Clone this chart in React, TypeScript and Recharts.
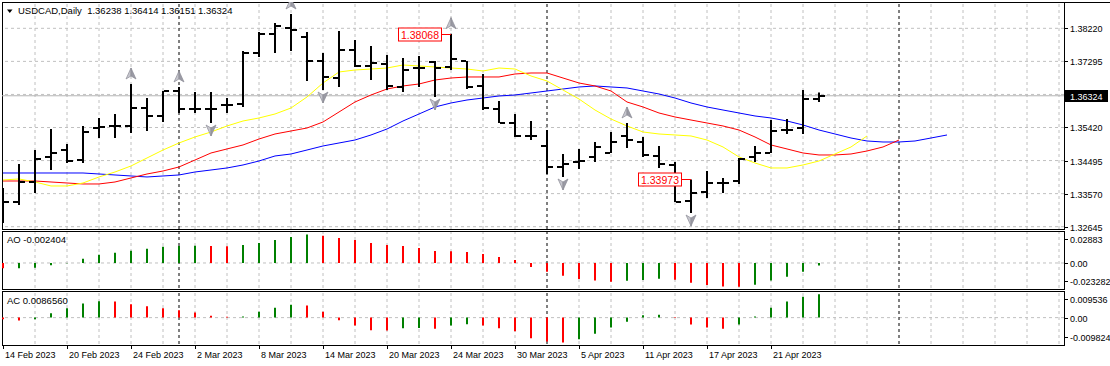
import React from 'react';
import { ComposedChart, Bar, Line, Scatter, XAxis, YAxis, ReferenceLine, Cell } from 'recharts';

const FONT = '"Liberation Sans", Arial, sans-serif';
const W = 1110;
const GREEN = '#008000';
const RED = '#ff0000';

// daily bars, 14 Feb 2023 .. 26 Apr 2023
const opens = [1.334, 1.33339, 1.33901, 1.34604, 1.348, 1.34519, 1.35418, 1.35475, 1.35475, 1.3598, 1.35756, 1.36458, 1.35952, 1.35952, 1.36065, 1.36093, 1.37526, 1.3806, 1.38228, 1.37976, 1.37301, 1.36823, 1.3761, 1.37161, 1.37217, 1.36571, 1.37104, 1.37273, 1.37133, 1.37301, 1.36599, 1.35952, 1.35559, 1.35194, 1.34913, 1.34323, 1.34463, 1.34604, 1.34716, 1.35194, 1.35025, 1.34632, 1.34379, 1.33367, 1.3362, 1.33873, 1.33929, 1.34604, 1.34716, 1.35362, 1.35418, 1.36238];
const highs = [1.33733, 1.34407, 1.348, 1.3539, 1.34969, 1.35475, 1.35699, 1.35812, 1.36655, 1.36261, 1.36458, 1.36571, 1.3643, 1.3643, 1.36261, 1.37582, 1.38116, 1.38369, 1.38622, 1.38116, 1.37526, 1.38144, 1.37891, 1.37723, 1.3747, 1.37385, 1.37442, 1.37301, 1.38068, 1.37301, 1.36936, 1.36177, 1.35812, 1.35615, 1.35362, 1.34688, 1.34829, 1.35025, 1.35306, 1.35559, 1.35166, 1.34913, 1.34463, 1.33973, 1.3421, 1.34014, 1.34576, 1.34913, 1.35643, 1.35671, 1.36486, 1.36414];
const lows = [1.32749, 1.33255, 1.33592, 1.34238, 1.34435, 1.34435, 1.35137, 1.35137, 1.35278, 1.35334, 1.35587, 1.3584, 1.3584, 1.35559, 1.3584, 1.36009, 1.37413, 1.37526, 1.37582, 1.36739, 1.36486, 1.36571, 1.37133, 1.36767, 1.36486, 1.3643, 1.36571, 1.3629, 1.37048, 1.36514, 1.35924, 1.35559, 1.35166, 1.35081, 1.34126, 1.34042, 1.34267, 1.34463, 1.34716, 1.34857, 1.34604, 1.34295, 1.33339, 1.3303, 1.33452, 1.33592, 1.33845, 1.34463, 1.34716, 1.3525, 1.3525, 1.36151];
const closes = [1.33339, 1.33901, 1.34548, 1.34716, 1.34491, 1.35306, 1.35447, 1.35475, 1.3598, 1.35756, 1.36458, 1.35952, 1.35952, 1.35952, 1.36065, 1.37526, 1.3806, 1.38285, 1.38172, 1.37301, 1.36852, 1.3761, 1.37161, 1.37245, 1.36599, 1.37048, 1.37104, 1.37104, 1.37357, 1.36571, 1.3598, 1.35559, 1.35194, 1.35194, 1.34323, 1.34407, 1.34491, 1.34885, 1.35025, 1.35081, 1.3466, 1.34407, 1.33339, 1.33592, 1.33873, 1.33873, 1.34548, 1.34716, 1.35334, 1.35362, 1.36233, 1.36324];

// alligator lines (shifted forward, so they run past the last bar)
const lips = [1.33958, 1.33986, 1.33901, 1.33789, 1.33789, 1.33873, 1.34042, 1.34182, 1.34351, 1.34576, 1.348, 1.34997, 1.35166, 1.35306, 1.35475, 1.35615, 1.357, 1.35812, 1.3598, 1.3629, 1.36683, 1.36992, 1.37048, 1.37076, 1.37104, 1.37189, 1.37161, 1.37133, 1.37104, 1.37076, 1.3702, 1.37104, 1.37076, 1.3688, 1.36739, 1.36486, 1.36233, 1.35924, 1.35671, 1.35475, 1.35306, 1.3525, 1.35222, 1.35194, 1.35081, 1.34885, 1.34604, 1.34435, 1.34295, 1.34295, 1.34379, 1.34491, 1.34688, 1.34885, 1.35194];
const teeth = [1.33929, 1.33929, 1.33929, 1.33901, 1.33873, 1.33845, 1.33845, 1.33901, 1.34014, 1.34126, 1.3421, 1.34323, 1.34519, 1.34716, 1.34829, 1.34941, 1.35109, 1.3525, 1.35334, 1.35418, 1.35587, 1.35868, 1.36149, 1.36346, 1.36514, 1.36599, 1.36655, 1.36767, 1.36823, 1.36852, 1.36852, 1.36852, 1.36936, 1.36964, 1.36964, 1.36823, 1.36683, 1.36599, 1.36458, 1.36149, 1.36009, 1.3584, 1.35728, 1.35643, 1.35559, 1.35475, 1.35362, 1.35166, 1.34941, 1.34829, 1.34716, 1.3466, 1.3466, 1.34688, 1.34772, 1.34885, 1.35081];
const jaw = [1.34154, 1.34154, 1.34154, 1.34154, 1.34154, 1.34154, 1.34126, 1.34098, 1.3407, 1.34042, 1.3407, 1.34098, 1.34182, 1.34238, 1.34295, 1.34379, 1.34491, 1.34632, 1.34688, 1.348, 1.34913, 1.34997, 1.35081, 1.35222, 1.3539, 1.35615, 1.35812, 1.36009, 1.36121, 1.36205, 1.36261, 1.36318, 1.36346, 1.36402, 1.36458, 1.36514, 1.36571, 1.36599, 1.36571, 1.36543, 1.36458, 1.36374, 1.36261, 1.36121, 1.36009, 1.35924, 1.3584, 1.35756, 1.357, 1.35615, 1.35503, 1.35362, 1.3525, 1.35137, 1.35053, 1.35025, 1.35025, 1.35053, 1.35137, 1.35222];

const fractalsUp = [8, 11, 18, 28, 39];
const fractalsDown = [13, 20, 27, 35, 43];
const markedHighs = [28, 43];

const ao = [-0.005, -0.0048, -0.0044, -0.0021, -0.0003, 0.004, 0.0077, 0.0096, 0.0114, 0.0133, 0.0152, 0.0158, 0.016, 0.0158, 0.0155, 0.0167, 0.0186, 0.0214, 0.0242, 0.0264, 0.0254, 0.0233, 0.0214, 0.0186, 0.0167, 0.0158, 0.014, 0.0112, 0.011, 0.0102, 0.0084, 0.0056, 0.0028, -0.0037, -0.0081, -0.0118, -0.0149, -0.0164, -0.0174, -0.0165, -0.0158, -0.0146, -0.0155, -0.0183, -0.0205, -0.022, -0.0222, -0.0202, -0.0164, -0.0127, -0.0081, -0.002404];
const ac = [-0.0006, -0.0011, -0.0006, 0.0016, 0.0035, 0.0053, 0.0061, 0.006, 0.005, 0.0042, 0.0035, 0.0027, 0.0019, 0.0007, 0.0003, 0.0004, 0.0022, 0.0037, 0.0048, 0.0045, 0.0022, -0.001, -0.0029, -0.0047, -0.0048, -0.004, -0.0039, -0.0041, -0.0029, -0.0025, -0.0029, -0.004, -0.0051, -0.0077, -0.0089, -0.0093, -0.0081, -0.006, -0.0037, -0.0015, 0.0009, 0.0011, 0.0002, -0.0026, -0.0037, -0.0041, -0.0026, 0.0004, 0.0037, 0.006, 0.0078, 0.008656];

const dateTicks = [0, 4, 8, 12, 16, 20, 24, 28, 32, 36, 40, 44, 48];
const dateLabels = ['14 Feb 2023', '20 Feb 2023', '24 Feb 2023', '2 Mar 2023', '8 Mar 2023', '14 Mar 2023', '20 Mar 2023', '24 Mar 2023', '30 Mar 2023', '5 Apr 2023', '11 Apr 2023', '17 Apr 2023', '21 Apr 2023'];

const priceTicks = [1.3822, 1.372908, 1.363617, 1.354325, 1.345033, 1.335742, 1.32645];
const priceTickLabels = ['1.38220', '1.37295', '', '1.35420', '1.34495', '1.33570', '1.32645'];
const bid = 1.36324;

const aoTicks = [0.02883, 0, -0.023282];
const aoTickLabels = ['0.02883', '0.00', '-0.023282'];
const acTicks = [0.009536, 0, -0.009824];
const acTickLabels = ['0.009536', '0.00', '-0.009824'];

const separators = [11, 34, 56];
const X_DOMAIN: [number, number] = [-0.0625, 66.3125];
const PRICE_DOMAIN: [number, number] = [1.3258, 1.38959];
const barTicks = Array.from({ length: 67 }, (_, i) => i);
const gridIdx = Array.from({ length: 33 }, (_, k) => 2 + 2 * k).filter((i) => !separators.includes(i));

const rows = jaw.map((j, i) => ({
  i,
  hl: i < highs.length ? [lows[i], highs[i]] : null,
  open: i < opens.length ? opens[i] : null,
  close: i < closes.length ? closes[i] : null,
  lips: i < lips.length ? lips[i] : null,
  teeth: i < teeth.length ? teeth[i] : null,
  jaw: j,
}));

const upRows = fractalsUp.map((i) => ({ i, y: highs[i] }));
const downRows = fractalsDown.map((i) => ({ i, y: lows[i] }));
const markRows = markedHighs.map((i) => ({ i, y: highs[i] }));
const aoRows = ao.map((v, i) => ({ i, v, up: i > 0 && v > ao[i - 1] }));
const acRows = ac.map((v, i) => ({ i, v, up: i > 0 && v > ac[i - 1] }));

const ok = (n: any) => typeof n === 'number' && Number.isFinite(n);

const OpenTick = (p: any) =>
  ok(p.cy) ? <rect x={p.cx - 6} y={Math.round(p.cy) - 1} width={5} height={2} fill="#000" /> : <g />;
const CloseTick = (p: any) =>
  ok(p.cy) ? <rect x={p.cx + 1} y={Math.round(p.cy) - 1} width={5} height={2} fill="#000" /> : <g />;

const FractalUp = (p: any) => {
  const x = p.cx;
  const y = p.cy - 10;
  return (
    <g>
      <polygon points={`${x},${y - 6} ${x},${y + 2} ${x - 5},${y + 5}`} fill="#c6c6ce" stroke="#8c8c96" strokeWidth={0.7} />
      <polygon points={`${x},${y - 6} ${x + 5},${y + 5} ${x},${y + 2}`} fill="#9a9aa4" stroke="#8c8c96" strokeWidth={0.7} />
    </g>
  );
};
const FractalDown = (p: any) => {
  const x = p.cx;
  const y = p.cy + 7;
  return (
    <g>
      <polygon points={`${x},${y + 6} ${x},${y - 2} ${x - 5},${y - 5}`} fill="#c6c6ce" stroke="#8c8c96" strokeWidth={0.7} />
      <polygon points={`${x},${y + 6} ${x + 5},${y - 5} ${x},${y - 2}`} fill="#9a9aa4" stroke="#8c8c96" strokeWidth={0.7} />
    </g>
  );
};

const PriceMark = (p: any) => {
  const x = p.cx;
  const y = Math.round(p.cy) + 0.5;
  return (
    <g>
      <line x1={x - 9} x2={x} y1={y} y2={y} stroke={RED} />
      <rect x={x - 52.5} y={y - 6.5} width={43} height={13} fill="#fff" stroke={RED} />
      <text x={x - 31} y={y + 4} textAnchor="middle" fontSize={10.5} fontFamily={FONT} fill={RED}>
        {p.payload.y.toFixed(5)}
      </text>
    </g>
  );
};

const PriceTick = (p: any) => {
  const v = p.payload.value;
  const y = Math.round(p.y) + 0.5;
  if (Math.abs(v - bid) < 1e-7) {
    return (
      <g>
        <rect x={p.x} y={y - 6.5} width={44} height={12} fill="#000" />
        <text x={p.x + 6} y={y + 3} fontSize={9} fontFamily={FONT} fill="#fff">{bid.toFixed(5)}</text>
      </g>
    );
  }
  const k = priceTicks.findIndex((t) => Math.abs(t - v) < 1e-7);
  const label = priceTickLabels[k];
  if (!label) return <g />;
  return (
    <g>
      <line x1={p.x} x2={p.x + 4} y1={y} y2={y} stroke="#000" />
      <text x={p.x + 6} y={y + 3} fontSize={9} fontFamily={FONT} fill="#000">{label}</text>
    </g>
  );
};

const IndTick = (p: any) => {
  const v = p.payload.value;
  const k = p.vals.findIndex((t: number) => Math.abs(t - v) < 1e-9);
  const shift = v > 0 ? 7 : v < 0 ? -7 : 0;
  const y = Math.round(p.y + shift) + 0.5;
  return (
    <g>
      <line x1={p.x} x2={p.x + 4} y1={y} y2={y} stroke="#000" />
      <text x={p.x + 6} y={y + 3} fontSize={9} fontFamily={FONT} fill="#000">{p.labels[k]}</text>
    </g>
  );
};

const DateTick = (p: any) => {
  const k = dateTicks.indexOf(p.payload.value);
  const x = Math.round(p.x) + 0.5;
  return (
    <g>
      <line x1={x} x2={x} y1={p.y + 1} y2={p.y + 5} stroke="#000" />
      <text x={x + 1.5} y={p.y + 14} fontSize={9} fontFamily={FONT} fill="#000">{dateLabels[k]}</text>
    </g>
  );
};

const gridLines = (zero?: boolean) => [
  ...gridIdx.map((i) => (
    <ReferenceLine key={'v' + i} x={i} stroke="#c0c0c0" strokeDasharray="3 3" zIndex={-90} />
  )),
  ...separators.map((i) => (
    <ReferenceLine key={'s' + i} x={i} stroke="#000" strokeDasharray="3 3" zIndex={-80} />
  )),
  ...(zero ? [<ReferenceLine key="zero" y={0} stroke="#c0c0c0" strokeDasharray="3 3" zIndex={-90} />] : []),
];

const Frame = ({ top, height }: { top: number; height: number }) => (
  <div style={{ position: 'absolute', left: 2, top, width: 1063, height, border: '1px solid #000', boxSizing: 'border-box' }} />
);

const textStyle: React.CSSProperties = {
  position: 'absolute',
  fontFamily: FONT,
  fontSize: 9.5,
  lineHeight: '11px',
  color: '#000',
  whiteSpace: 'pre',
};

export default function App() {
  const last = opens.length - 1;
  return (
    <div style={{ position: 'absolute', left: 0, top: 0, width: W, height: 366, background: '#fff', overflow: 'hidden' }}>
      <Frame top={2} height={228} />
      <Frame top={231} height={59} />
      <Frame top={291} height={55} />
      <div style={{ position: 'absolute', left: 2, top: 2, width: 1108, height: 1, background: '#000' }} />

      <div style={{ position: 'absolute', left: 0, top: 0 }}>
        <ComposedChart width={W} height={231} data={rows} margin={{ top: 2, right: 0, bottom: 2, left: 2 }}>
          <XAxis dataKey="i" type="number" domain={X_DOMAIN} ticks={barTicks} hide allowDataOverflow />
          <YAxis
            orientation="right"
            width={46}
            domain={PRICE_DOMAIN}
            ticks={[...priceTicks, bid]}
            interval={0}
            allowDataOverflow
            axisLine={false}
            tickLine={false}
            tickSize={0}
            tickMargin={0}
            tick={<PriceTick />}
          />
          {priceTicks.map((p) => (
            <ReferenceLine key={'h' + p} y={p} stroke="#c0c0c0" strokeDasharray="3 3" zIndex={-90} />
          ))}
          {gridLines()}
          <ReferenceLine y={bid} stroke="#b4b4b4" zIndex={-70} />
          <Line dataKey="jaw" type="linear" stroke="#0000ff" strokeWidth={1} dot={false} activeDot={false} isAnimationActive={false} zIndex={250} />
          <Line dataKey="teeth" type="linear" stroke="#ff0000" strokeWidth={1} dot={false} activeDot={false} isAnimationActive={false} zIndex={250} />
          <Line dataKey="lips" type="linear" stroke="#ffff00" strokeWidth={1} dot={false} activeDot={false} isAnimationActive={false} zIndex={250} />
          <Bar dataKey="hl" barSize={2} fill="#000" isAnimationActive={false} zIndex={300} />
          <Scatter dataKey="open" shape={<OpenTick />} isAnimationActive={false} />
          <Scatter dataKey="close" shape={<CloseTick />} isAnimationActive={false} />
          <Scatter data={upRows} dataKey="y" shape={<FractalUp />} isAnimationActive={false} />
          <Scatter data={downRows} dataKey="y" shape={<FractalDown />} isAnimationActive={false} />
          <Scatter data={markRows} dataKey="y" shape={<PriceMark />} isAnimationActive={false} />
        </ComposedChart>
      </div>

      <div style={{ position: 'absolute', left: 0, top: 231 }}>
        <ComposedChart width={W} height={58} data={aoRows} margin={{ top: 1, right: 0, bottom: 1, left: 2 }}>
          <XAxis dataKey="i" type="number" domain={X_DOMAIN} ticks={barTicks} hide allowDataOverflow />
          <YAxis
            orientation="right"
            width={46}
            domain={[aoTicks[2], aoTicks[0]]}
            ticks={aoTicks}
            interval={0}
            allowDataOverflow
            axisLine={false}
            tickLine={false}
            tickSize={0}
            tickMargin={0}
            tick={<IndTick vals={aoTicks} labels={aoTickLabels} />}
          />
          {gridLines(true)}
          <Bar dataKey="v" barSize={2} isAnimationActive={false}>
            {aoRows.map((r) => (
              <Cell key={r.i} fill={r.up ? GREEN : RED} />
            ))}
          </Bar>
        </ComposedChart>
      </div>

      <div style={{ position: 'absolute', left: 0, top: 291 }}>
        <ComposedChart width={W} height={70} data={acRows} margin={{ top: 1, right: 0, bottom: 1, left: 2 }}>
          <XAxis
            dataKey="i"
            type="number"
            domain={X_DOMAIN}
            ticks={dateTicks}
            interval={0}
            height={16}
            allowDataOverflow
            axisLine={false}
            tickLine={false}
            tickSize={0}
            tickMargin={0}
            tick={<DateTick />}
          />
          <YAxis
            orientation="right"
            width={46}
            domain={[acTicks[2], acTicks[0]]}
            ticks={acTicks}
            interval={0}
            allowDataOverflow
            axisLine={false}
            tickLine={false}
            tickSize={0}
            tickMargin={0}
            tick={<IndTick vals={acTicks} labels={acTickLabels} />}
          />
          {gridLines(true)}
          <Bar dataKey="v" barSize={2} isAnimationActive={false}>
            {acRows.map((r) => (
              <Cell key={r.i} fill={r.up ? GREEN : RED} />
            ))}
          </Bar>
        </ComposedChart>
      </div>

      <div style={{ ...textStyle, left: 7, top: 5 }}>
        <svg width={6} height={5} style={{ marginRight: 5, verticalAlign: 'middle' }}>
          <polygon points="0,0.5 5.5,0.5 2.75,4" fill="#000" />
        </svg>
        {`USDCAD,Daily  ${opens[last].toFixed(5)} ${highs[last].toFixed(5)} ${lows[last].toFixed(5)} ${closes[last].toFixed(5)}`}
      </div>
      <div style={{ ...textStyle, left: 7, top: 234 }}>{`AO ${ao[last].toFixed(6)}`}</div>
      <div style={{ ...textStyle, left: 7, top: 295 }}>{`AC ${ac[last].toFixed(7)}`}</div>
    </div>
  );
}
